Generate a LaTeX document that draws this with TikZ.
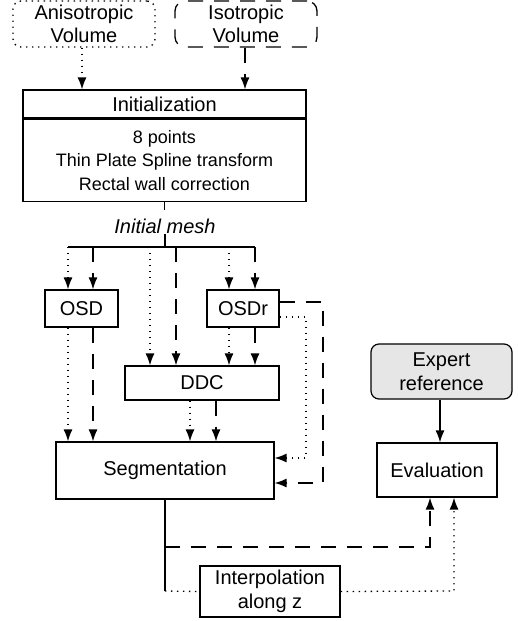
\documentclass[tikz,border=0pt]{standalone}
\usepackage{fontspec}
\setmainfont{Liberation Sans}
\usetikzlibrary{arrows.meta,calc}
\definecolor{expertgray}{HTML}{E6E6E6}
\tikzset{
  arr/.style={-{Latex[length=12pt,width=9pt]}},
}
\begin{document}
\begin{tikzpicture}[x=1pt,y=-1pt,
  every node/.style={font=\fontsize{20}{23.5}\selectfont, inner sep=0pt, align=center},
  box/.style={draw, line width=1.2pt, rectangle},
  dotline/.style={line width=1.3pt, dash pattern=on 1.4pt off 4.6pt},
  dashline/.style={line width=1.3pt, dash pattern=on 15pt off 11pt},
  solidline/.style={line width=1.3pt},
]
\useasboundingbox (0,0) rectangle (518,621);

% sources
\node[draw, dotline, rounded corners=8pt, minimum width=142pt, minimum height=46pt] (aniso) at (84,24) {Anisotropic\\Volume};
\node[draw, dashline, rounded corners=10pt, minimum width=142pt, minimum height=46pt] (iso) at (246,24) {Isotropic\\Volume};

% initialization
\node[box, minimum width=283pt, minimum height=28pt] (inittitle) at (164.5,104) {Initialization};
\node[box, minimum width=283pt, minimum height=82pt, anchor=north, font=\fontsize{18}{23.5}\selectfont] (initbody) at (inittitle.south) {8 points\\Thin Plate Spline transform\\Rectal wall correction};

\node[font=\fontsize{20}{23.5}\selectfont\itshape] (mesh) at (165,226) {Initial mesh};

% processing boxes
\node[box, minimum width=73pt, minimum height=37pt] (osd) at (81.5,308.5) {OSD};
\node[box, minimum width=72pt, minimum height=37pt] (osdr) at (243,308.5) {OSDr};
\node[box, minimum width=154pt, minimum height=34pt] (ddc) at (202,383) {DDC};
\node[box, minimum width=218pt, minimum height=57pt] (seg) at (165,470.5) {Segmentation};
\node[box, draw, fill=expertgray, rounded corners=8pt, minimum width=141pt, minimum height=55pt] (expert) at (441.5,371.5) {Expert\\reference};
\node[box, minimum width=120pt, minimum height=54pt] (eval) at (437,470) {Evaluation};
\node[box, minimum width=140pt, minimum height=51pt] (interp) at (270,591.5) {Interpolation\\along z};

% inputs to initialization
\draw[dotline, arr] (aniso.south -| 82,0) -- (82,0 |- inittitle.north);
\draw[dashline, arr] (iso.south -| 245,0) -- (245,0 |- inittitle.north);

% initial mesh bus
\coordinate (busC) at (165,247);
\coordinate (busL) at (68,247);
\coordinate (busR) at (255,247);
\draw[solidline] (initbody.south) -- ++(0,8);
\draw[solidline] (mesh.south) -- (busC);
\draw[solidline] (busL) -- (busR);

\draw[dotline, arr] (busL) -- (68,0 |- osd.north);
\draw[dashline, arr] (93,247) -- (93,0 |- osd.north);
\draw[dotline, arr] (150,247) -- (150,0 |- ddc.north);
\draw[dashline, arr] (176,247) -- (176,0 |- ddc.north);
\draw[dotline, arr] (229,247) -- (229,0 |- osdr.north);
\draw[dashline, arr] (busR) -- (255,0 |- osdr.north);

% OSD to segmentation
\draw[dotline, arr] (68,0 |- osd.south) -- (68,0 |- seg.north);
\draw[dashline, arr] (93,0 |- osd.south) -- (93,0 |- seg.north);
% OSDr to DDC
\draw[dotline, arr] (229,0 |- osdr.south) -- (229,0 |- ddc.north);
\draw[dashline, arr] (255,0 |- osdr.south) -- (255,0 |- ddc.north);
% DDC to segmentation
\draw[dotline, arr] (190,0 |- ddc.south) -- (190,0 |- seg.north);
\draw[dashline, arr] (216,0 |- ddc.south) -- (216,0 |- seg.north);
% OSDr to segmentation (side)
\draw[dashline, arr] (osdr.east |- 0,302) -- (323,302) -- (323,483) -- (seg.east |- 0,483);
\draw[dotline, arr] (osdr.east |- 0,317) -- (306,317) -- (306,458) -- (seg.east |- 0,458);

% expert to evaluation
\draw[solidline, arr] (expert.south -| 440,0) -- (440,0 |- eval.north);

% segmentation outputs
\coordinate (segdown) at (165,591);
\draw[solidline] (seg.south) -- (segdown);
\draw[dashline, arr] (165,547) -- (430,547) -- (430,0 |- eval.south);
\draw[dotline] (segdown) -- (interp.west);
\draw[dotline, arr] (interp.east) -- (454,591) -- (454,0 |- eval.south);
\end{tikzpicture}
\end{document}
